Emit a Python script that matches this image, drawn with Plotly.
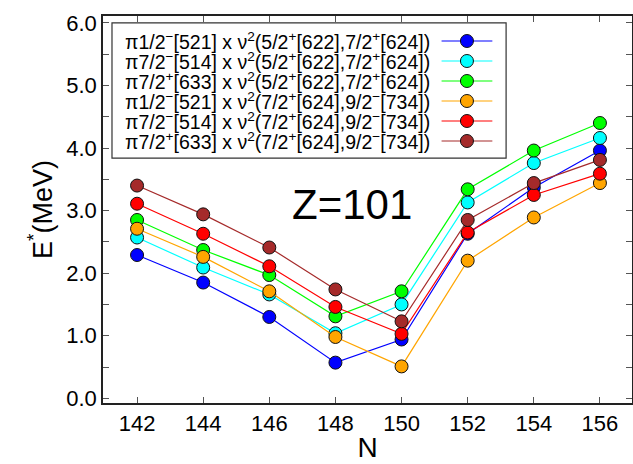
import plotly.graph_objects as go

N = [142, 144, 146, 148, 150, 152, 154, 156]

names = [
    "π1/2<sup>−</sup>[521] x ν<sup>2</sup>(5/2<sup>+</sup>[622],7/2<sup>+</sup>[624])",
    "π7/2<sup>−</sup>[514] x ν<sup>2</sup>(5/2<sup>+</sup>[622],7/2<sup>+</sup>[624])",
    "π7/2<sup>+</sup>[633] x ν<sup>2</sup>(5/2<sup>+</sup>[622],7/2<sup>+</sup>[624])",
    "π1/2<sup>−</sup>[521] x ν<sup>2</sup>(7/2<sup>+</sup>[624],9/2<sup>−</sup>[734])",
    "π7/2<sup>−</sup>[514] x ν<sup>2</sup>(7/2<sup>+</sup>[624],9/2<sup>−</sup>[734])",
    "π7/2<sup>+</sup>[633] x ν<sup>2</sup>(7/2<sup>+</sup>[624],9/2<sup>−</sup>[734])",
]
colors = ["#0000FF", "#00FFFF", "#00FF00", "#FFA500", "#FF0000", "#A52A2A"]

blue = [2.29, 1.85, 1.30, 0.57, 0.94, 2.63, 3.37, 3.96]
cyan = [2.57, 2.09, 1.66, 1.04, 1.50, 3.13, 3.76, 4.16]
green = [2.85, 2.37, 1.97, 1.31, 1.71, 3.34, 3.96, 4.40]
orange = [2.71, 2.26, 1.71, 0.98, 0.51, 2.20, 2.89, 3.44]
red = [3.11, 2.63, 2.11, 1.46, 1.03, 2.65, 3.25, 3.59]
brown = [3.40, 2.94, 2.41, 1.74, 1.23, 2.85, 3.44, 3.81]
series = [blue, cyan, green, orange, red, brown]

FONT = "Liberation Sans"

fig = go.Figure()
for nm, col, vals in zip(names, colors, series):
    fig.add_trace(go.Scatter(
        x=N, y=vals, mode="lines+markers", name=nm,
        line=dict(color=col, width=1.2),
        marker=dict(color=col, size=13, line=dict(color="#111111", width=1)),
        showlegend=False,
    ))

# custom legend (symbols on the right, as in the reference)
shapes = [dict(type="rect", xref="paper", yref="paper", x0=0.017, x1=0.762,
               y0=0.633, y1=0.982, line=dict(color="#333333", width=1.2),
               fillcolor="white", layer="above")]
annotations = []
for i, (nm, col) in enumerate(zip(names, colors)):
    yy = (403 - (41 + 20 * i)) / 387
    annotations.append(dict(x=0.038, y=yy, xref="paper", yref="paper", text=nm,
                            showarrow=False, xanchor="left", yanchor="middle",
                            font=dict(family=FONT, size=19.5, color="black")))
    shapes.append(dict(type="line", xref="paper", yref="paper", x0=0.64, x1=0.736,
                       y0=yy, y1=yy, line=dict(color=col, width=1.2), layer="above"))
    shapes.append(dict(type="circle", xref="paper", yref="paper", xsizemode="pixel",
                       ysizemode="pixel", xanchor=0.688, yanchor=yy,
                       x0=-6.5, x1=6.5, y0=-6.5, y1=6.5, fillcolor=col,
                       line=dict(color="#111111", width=1), layer="above"))

annotations.append(dict(x=148.5, y=3.09, xref="x", yref="y", text="Z=101",
                        showarrow=False, font=dict(family=FONT, size=42, color="black")))

fig.update_layout(
    width=633, height=464,
    margin=dict(l=103, r=1, t=16, b=61, autoexpand=False),
    paper_bgcolor="white", plot_bgcolor="white",
    font=dict(family=FONT, color="black"),
    shapes=shapes, annotations=annotations,
)
fig.update_xaxes(
    automargin=False,
    range=[140.97, 156.97], tickvals=N, ticktext=[str(n) for n in N],
    ticks="inside", ticklen=6, tickcolor="#555555", tickwidth=1.2,
    showline=True, linecolor="#222222", linewidth=1.5, mirror="allticks",
    showgrid=False, zeroline=False,
    tickfont=dict(family=FONT, size=22),
    title=dict(text="N", font=dict(family=FONT, size=28), standoff=2),
)
fig.update_yaxes(
    automargin=False,
    range=[-0.075, 6.11], tickvals=[0, 1, 2, 3, 4, 5, 6],
    ticktext=["0.0", "1.0", "2.0", "3.0", "4.0", "5.0", "6.0"],
    ticks="inside", ticklen=6, tickcolor="#555555", tickwidth=1.2,
    minor=dict(tickvals=[0.5, 1.5, 2.5, 3.5, 4.5, 5.5], ticks="inside", ticklen=6,
               tickcolor="#555555", tickwidth=1.2),
    showline=True, linecolor="#222222", linewidth=1.5, mirror="allticks",
    showgrid=False, zeroline=False,
    tickfont=dict(family=FONT, size=22),
    title=dict(text="E<sup>*</sup>(MeV)", font=dict(family=FONT, size=27), standoff=6),
)

fig.write_html("out.html", config={"displayModeBar": False},
               post_script="document.body.style.margin='0';document.body.style.overflow='hidden';")
